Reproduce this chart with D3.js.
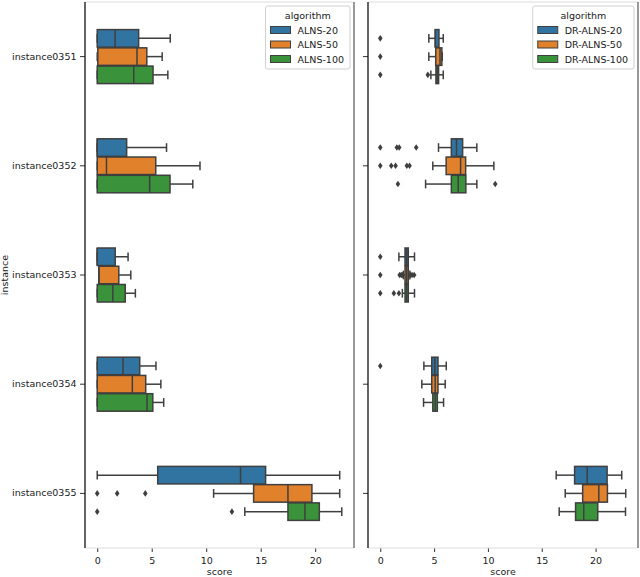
<!DOCTYPE html>
<html>
<head>
<meta charset="utf-8">
<script src="https://cdn.jsdelivr.net/npm/d3@7"></script>
<style>
body { margin: 0; background: #fff; }
text { font-family: "DejaVu Sans", sans-serif; }
</style>
</head>
<body>
<div id="chart"></div>
<script>
const instances = ["instance0351", "instance0352", "instance0353", "instance0354", "instance0355"];
const leftAlgorithms = ["ALNS-20", "ALNS-50", "ALNS-100"];
const rightAlgorithms = ["DR-ALNS-20", "DR-ALNS-50", "DR-ALNS-100"];
const xTicks = [0, 5, 10, 15, 20];
const colors = ["#3274a1", "#e1812c", "#3a923a"];

// [min, q1, median, q3, max] for each instance
const alns20 = [[0, 0, 1.64, 3.8, 6.7], [0, 0, 0, 2.7, 6.36], [0, 0, 0, 1.65, 2.83], [0, 0, 2.37, 3.9, 5.39], [0, 5.55, 13.15, 15.45, 22.25]];
const alns50 = [[0, 0.05, 3.65, 4.55, 5.96], [0, 0, 0.85, 5.37, 9.43], [0.15, 0.15, 0.15, 1.98, 3.08], [0, 0, 3.22, 4.45, 5.84], [10.68, 14.35, 17.5, 19.7, 22.25]];
const alns100 = [[0, 0, 3.35, 5.12, 6.48], [0, 0, 4.81, 6.68, 8.77], [0, 0, 1.43, 2.57, 3.5], [0, 0, 4.57, 5.1, 6.1], [13.54, 17.5, 19.06, 20.38, 22.44]];
const alns20Out = [[], [], [], [], []];
const alns50Out = [[], [], [], [], [0, 1.83, 4.41]];
const alns100Out = [[], [], [], [], [0, 12.36]];

const dr20 = [[4.51, 5.1, 5.12, 5.45, 5.85], [5.41, 6.6, 7.08, 7.65, 8.97], [1.73, 2.3, 2.45, 2.6, 3.18], [4.05, 4.78, 5.07, 5.36, 6.13], [16.34, 18.05, 19.22, 21.07, 22.43]];
const dr50 = [[4.51, 5.15, 5.55, 5.72, 5.76], [4.88, 6.12, 7.46, 7.93, 10.55], [2.15, 2.3, 2.45, 2.6, 2.75], [3.86, 4.78, 5.1, 5.36, 6.03], [17.18, 18.8, 20.3, 21.1, 22.8]];
const dr100 = [[4.7, 5.17, 5.3, 5.42, 5.85], [4.21, 6.6, 7.24, 7.95, 8.97], [2.05, 2.3, 2.45, 2.6, 3.18], [4.02, 4.88, 5.1, 5.3, 5.88], [16.62, 18.14, 18.9, 20.2, 22.78]];
const dr20Out = [[0], [0, 1.54, 1.76, 3.34], [0], [0], []];
const dr50Out = [[0], [0, 1.02, 1.42, 2.47, 2.72], [0, 1.8, 1.95, 2.05, 2.8, 2.95, 3.15], [], []];
const dr100Out = [[0, 4.42], [1.64, 10.68], [0, 1.26, 1.73], [], []];

const width = 640, height = 577;
const plotTop = 2, plotBottom = 548;
const lineColor = "#3f3f3f";
const fontSize = "9.5px";

const svg = d3.select("#chart").append("svg")
    .attr("width", width)
    .attr("height", height);

function drawPanel(left, right, algos, stats, outs, showLabels) {
    const g = svg.append("g");
    let all = [];
    stats.forEach(s => s.forEach(d => all = all.concat(d)));
    outs.forEach(s => s.forEach(d => all = all.concat(d)));
    const [lo, hi] = d3.extent(all);
    const pad = (hi - lo) * 0.05;

    const x = d3.scaleLinear().domain([lo - pad, hi + pad]).range([left, right]);
    const y = d3.scaleBand().domain(instances).range([plotTop, plotBottom]);
    const inner = d3.scaleBand().domain(algos).range([-27, 27]).paddingInner(0.04);
    const bh = inner.bandwidth();

    // axes
    const xAxis = g.append("g")
        .attr("transform", `translate(0,${plotBottom})`)
        .call(d3.axisBottom(x).tickValues(xTicks).tickSize(4).tickPadding(5.5).tickFormat(d3.format("d")));
    xAxis.select(".domain").remove();
    xAxis.selectAll("line").attr("stroke", "#333");
    xAxis.selectAll("text").attr("fill", "#1a1a1a").style("font-size", fontSize);

    const yAxis = g.append("g")
        .attr("transform", `translate(${left},0)`)
        .call(d3.axisLeft(y).tickSize(5).tickPadding(3.5).tickFormat(showLabels ? d => d : ""));
    yAxis.select(".domain").remove();
    yAxis.selectAll("line").attr("stroke", "#333");
    yAxis.selectAll("text").attr("fill", "#1a1a1a").style("font-size", fontSize);

    // boxes
    algos.forEach((algo, ai) => {
        instances.forEach((inst, ii) => {
            const [mn, q1, med, q3, mx] = stats[ai][ii];
            const cy = y(inst) + y.bandwidth() / 2 + inner(algo) + bh / 2;
            const bg = g.append("g");
            bg.append("line")
                .attr("x1", x(mn)).attr("x2", x(q1)).attr("y1", cy).attr("y2", cy);
            bg.append("line")
                .attr("x1", x(q3)).attr("x2", x(mx)).attr("y1", cy).attr("y2", cy);
            bg.append("line")
                .attr("x1", x(mn)).attr("x2", x(mn)).attr("y1", cy - bh / 4).attr("y2", cy + bh / 4);
            bg.append("line")
                .attr("x1", x(mx)).attr("x2", x(mx)).attr("y1", cy - bh / 4).attr("y2", cy + bh / 4);
            bg.selectAll("line").attr("stroke", lineColor).attr("stroke-width", 1.5);
            bg.append("rect")
                .attr("x", x(q1)).attr("y", cy - bh / 2)
                .attr("width", x(q3) - x(q1)).attr("height", bh)
                .attr("fill", colors[ai])
                .attr("stroke", lineColor).attr("stroke-width", 1.5);
            bg.append("line")
                .attr("x1", x(med)).attr("x2", x(med)).attr("y1", cy - bh / 2).attr("y2", cy + bh / 2)
                .attr("stroke", lineColor).attr("stroke-width", 1.5);
            bg.selectAll(".out")
                .data(outs[ai][ii])
                .enter().append("path")
                .attr("class", "out")
                .attr("d", "M0,-3.3L2.3,0L0,3.3L-2.3,0Z")
                .attr("transform", d => `translate(${x(d)},${cy})`)
                .attr("fill", lineColor);
        });
    });

    // spines
    g.append("line").attr("x1", left).attr("x2", right).attr("y1", plotTop).attr("y2", plotTop)
        .attr("stroke", "#ddd");
    g.append("line").attr("x1", left).attr("x2", right).attr("y1", plotBottom).attr("y2", plotBottom)
        .attr("stroke", "#ddd");
    g.append("line").attr("x1", left).attr("x2", left).attr("y1", plotTop).attr("y2", plotBottom)
        .attr("stroke", "#111").attr("stroke-width", 1.3);
    g.append("line").attr("x1", right).attr("x2", right).attr("y1", plotTop).attr("y2", plotBottom)
        .attr("stroke", "#555").attr("stroke-width", 1.2);

    // x label
    g.append("text")
        .attr("x", (left + right) / 2).attr("y", 575)
        .attr("text-anchor", "middle")
        .attr("fill", "#1a1a1a")
        .style("font-size", fontSize)
        .text("score");

    // legend
    const lg = g.append("g");
    const frame = lg.append("rect");
    const labels = [];
    algos.forEach((algo, i) => {
        const ry = 30 + i * 14.5;
        lg.append("rect").attr("class", "patch").attr("y", ry - 3.5).attr("width", 20).attr("height", 7)
            .attr("fill", colors[i]).attr("stroke", lineColor).attr("stroke-width", 1);
        labels.push(lg.append("text").attr("y", ry + 3.5).attr("fill", "#1a1a1a")
            .style("font-size", fontSize).text(algo));
    });
    const textW = d3.max(labels, t => t.node().getComputedTextLength());
    const lw = 5 + 20 + 7 + textW + 6;
    const lx = right - 4 - lw;
    frame.attr("x", lx).attr("y", 6).attr("width", lw).attr("height", 63)
        .attr("rx", 2).attr("fill", "#fff").attr("fill-opacity", 0.8)
        .attr("stroke", "#d0d0d0").attr("stroke-width", 1);
    lg.selectAll(".patch").attr("x", lx + 5);
    labels.forEach(t => t.attr("x", lx + 32));
    lg.append("text")
        .attr("x", lx + lw / 2).attr("y", 18.5)
        .attr("text-anchor", "middle").attr("fill", "#1a1a1a")
        .style("font-size", fontSize)
        .text("algorithm");
}

drawPanel(85, 354, leftAlgorithms, [alns20, alns50, alns100], [alns20Out, alns50Out, alns100Out], true);
drawPanel(368, 638, rightAlgorithms, [dr20, dr50, dr100], [dr20Out, dr50Out, dr100Out], false);

svg.append("text")
    .attr("transform", "translate(8,275) rotate(-90)")
    .attr("text-anchor", "middle")
    .attr("fill", "#1a1a1a")
    .style("font-size", fontSize)
    .text("instance");
</script>
</body>
</html>
